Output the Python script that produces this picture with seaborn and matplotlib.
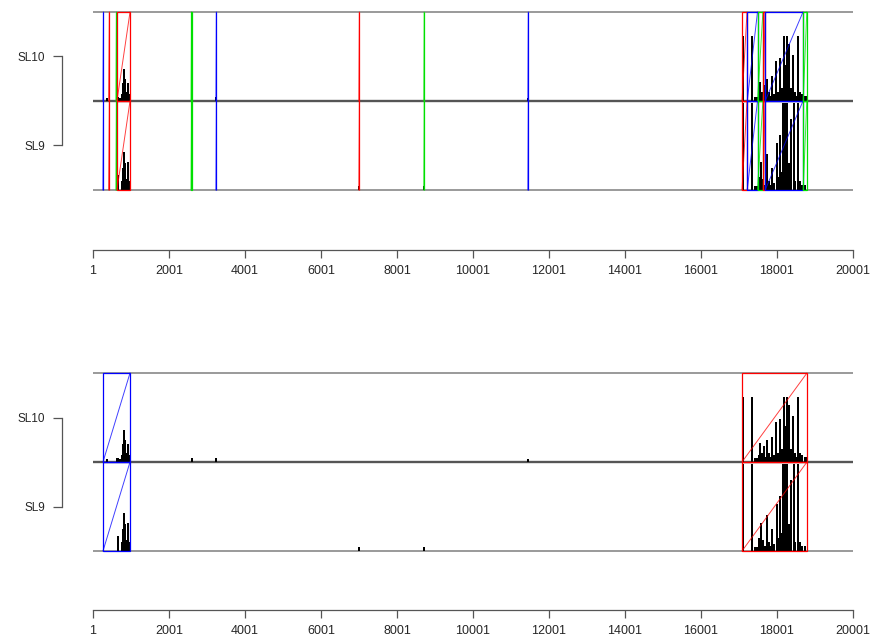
import numpy as np
import pandas as pd
import matplotlib.pyplot as plt
import seaborn as sns
from matplotlib.patches import Rectangle

sns.set_style("white")
plt.rcParams['font.family'] = ['Liberation Sans', 'DejaVu Sans']

# genome tracks: SL9 bottom (y 0-1), SL10 top (y 1-2)
genome_labels = ['SL9', 'SL10']
genome_label_y = [0.5, 1.5]
x_ticks = [1, 2001, 4001, 6001, 8001, 10001, 12001, 14001, 16001, 18001, 20001]

# upper panel: aligned blocks
upper_colors = ['blue', 'red', '#00e000', 'red', '#00e000', 'blue', 'red', '#00e000', 'blue',
                'red', 'blue', '#00e000', 'red', 'blue', '#00e000']
upper_starts = [262, 412, 604, 632, 2582, 3236, 6996, 8705, 11445,
                17080, 17217, 17488, 17640, 17690, 18690]
upper_ends = [277, 432, 619, 975, 2596, 3248, 7011, 8717, 11457,
              17212, 17488, 17630, 17685, 18685, 18785]

# lower panel: aligned blocks
lower_colors = ['blue', 'red']
lower_starts = [264, 17080]
lower_ends = [975, 18790]

# similarity profile, SL10 (top track)
sl10_pos = [361, 646, 700, 764, 790, 825, 851, 883, 930, 956, 2598, 3238, 11449,
            17106, 17351, 17420, 17475, 17520, 17554, 17607, 17660, 17700, 17746, 17791,
            17830, 17862, 17923, 17975, 18028, 18081, 18133, 18186, 18220, 18257, 18291,
            18325, 18370, 18414, 18445, 18475, 18520, 18562, 18607, 18660, 18752]
sl10_height = [0.03, 0.04, 0.03, 0.08, 0.2, 0.36, 0.25, 0.1, 0.2, 0.08, 0.04, 0.04, 0.03,
               0.73, 0.73, 0.04, 0.05, 0.08, 0.21, 0.1, 0.18, 0.06, 0.25, 0.1,
               0.06, 0.28, 0.08, 0.45, 0.1, 0.48, 0.15, 0.73, 0.4, 0.73, 0.2,
               0.64, 0.15, 0.52, 0.08, 0.1, 0.06, 0.73, 0.1, 0.08, 0.06]

# similarity profile, SL9 (bottom track)
sl9_pos = [667, 764, 790, 825, 851, 883, 930, 956, 7001, 8712,
           17114, 17336, 17420, 17475, 17530, 17580, 17620, 17700, 17738, 17791,
           17830, 17862, 17923, 17993, 18055, 18081, 18133, 18160, 18199, 18240,
           18270, 18330, 18370, 18439, 18480, 18545, 18600, 18660, 18739]
sl9_height = [0.17, 0.1, 0.25, 0.43, 0.3, 0.12, 0.32, 0.1, 0.04, 0.04,
              0.98, 0.98, 0.04, 0.05, 0.15, 0.32, 0.12, 0.06, 0.4, 0.1,
              0.06, 0.25, 0.08, 0.53, 0.15, 0.62, 0.2, 0.98, 0.98, 0.98,
              0.98, 0.3, 0.8, 0.98, 0.1, 0.98, 0.1, 0.06, 0.06]


def draw_panel(ax, colors, starts, ends):
    # track lines
    ax.hlines([0, 2], 1, 20001, color='#9a9a9a', lw=1.4, zorder=1)
    ax.hlines(1, 1, 20001, color='#555555', lw=1.7, zorder=1)
    # similarity profile
    ax.bar(sl9_pos, sl9_height, width=60, bottom=0, color='black', lw=0, zorder=2)
    ax.bar(sl10_pos, sl10_height, width=60, bottom=1, color='black', lw=0, zorder=2)
    # blocks with diagonals
    for c, s, e in zip(colors, starts, ends):
        for base in (0, 1):
            ax.add_patch(Rectangle((s, base), e - s, 1, fill=False, edgecolor=c,
                                   lw=0.9, zorder=3))
            ax.plot([s, e], [base, base + 1], color=c, lw=0.7, alpha=0.75, zorder=3)

    ax.set_xlim(1, 20001)
    ax.set_xticks(x_ticks)
    ax.set_xticklabels([str(t) for t in x_ticks])
    ax.set_yticks(genome_label_y)
    ax.set_yticklabels(genome_labels)
    for side in ['top', 'right']:
        ax.spines[side].set_visible(False)
    ax.spines['bottom'].set_color('#555555')
    ax.spines['bottom'].set_linewidth(0.9)
    ax.spines['left'].set_color('#555555')
    ax.spines['left'].set_linewidth(0.9)
    ax.spines['left'].set_position(('outward', 22.3))
    ax.spines['left'].set_bounds(0.5, 1.5)
    ax.tick_params(axis='x', direction='out', length=5.8, width=0.9, color='#555555',
                   pad=5, labelsize=9, bottom=True)
    ax.tick_params(axis='y', direction='out', length=6.5, width=0.9, color='#555555',
                   pad=5.5, labelsize=8.5, left=True)


fig = plt.figure(figsize=(8.75, 6.42), dpi=100)
W, H = 875, 642
ax1 = fig.add_axes([93 / W, 1 - 250 / H, 760 / W, (250 - 5) / H])
ax1.set_ylim(-60 / 89, 2 + 7 / 89)
draw_panel(ax1, upper_colors, upper_starts, upper_ends)

ax2 = fig.add_axes([93 / W, 1 - 610 / H, 760 / W, (610 - 366) / H])
ax2.set_ylim(-59 / 89, 2 + 7 / 89)
draw_panel(ax2, lower_colors, lower_starts, lower_ends)

fig.savefig('out.png', dpi=100)
